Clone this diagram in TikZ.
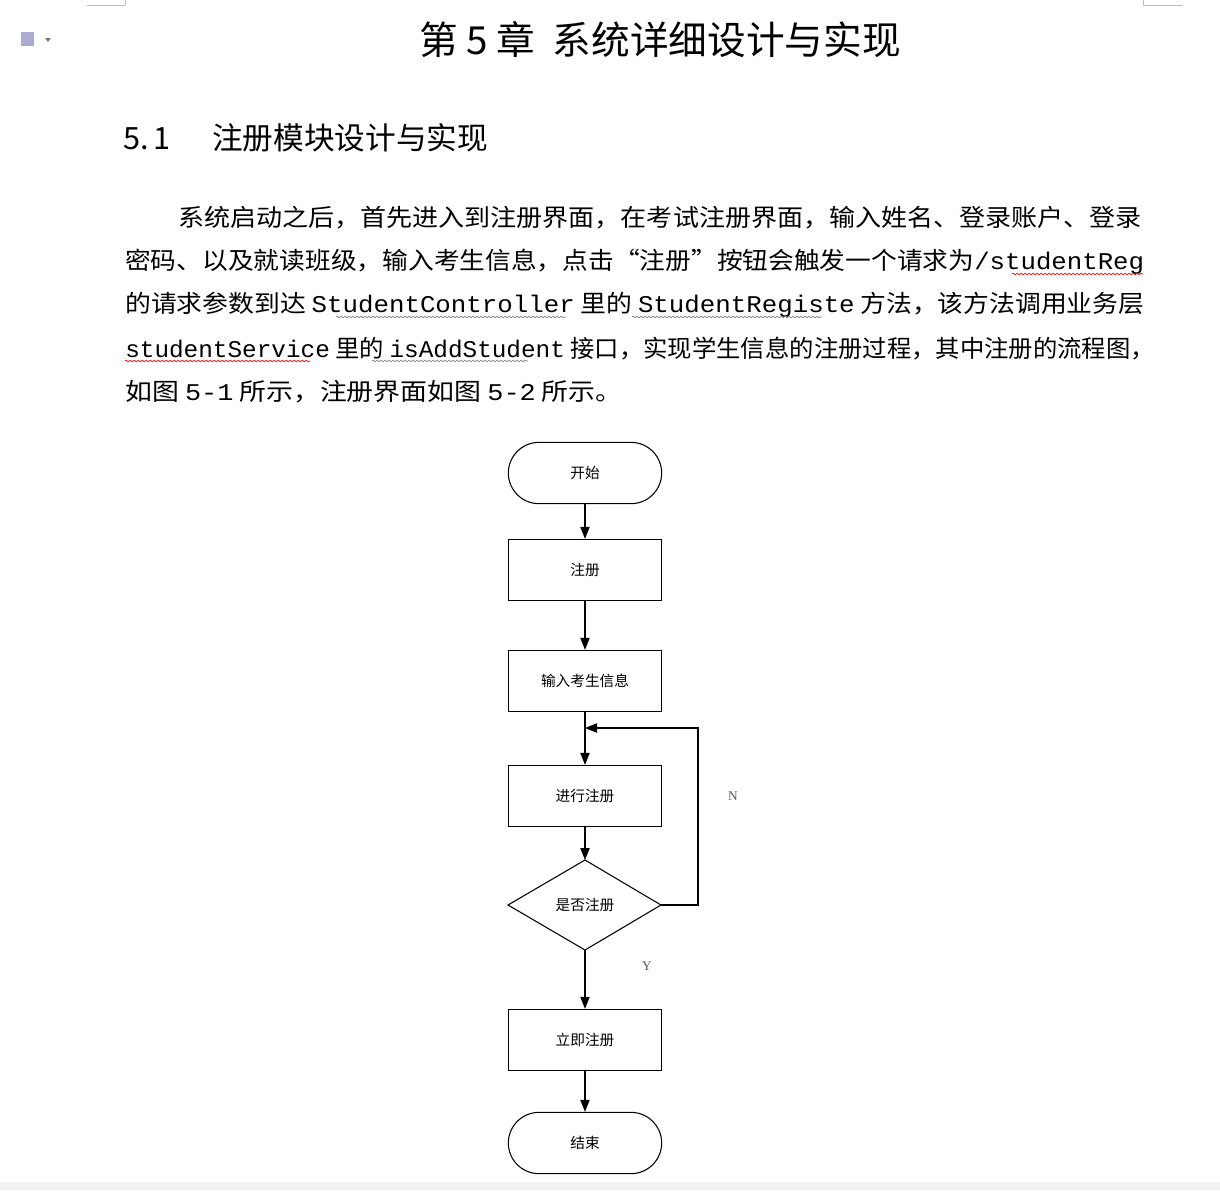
\documentclass[tikz,border=0pt]{standalone}
\usepackage{fontspec}
\setmainfont{Liberation Serif}
\newfontfamily\cjk{Noto Sans CJK SC}
\newfontfamily\mono{Liberation Mono}
\usetikzlibrary{arrows.meta,decorations.pathmorphing}
\begin{document}
\begin{tikzpicture}[x=0.75pt,y=-0.75pt,
  box/.style={draw,thick,minimum width=115pt,minimum height=46pt,font=\cjk\fontsize{11}{12}\selectfont},
  term/.style={box,rounded corners=23pt},
  arr/.style={thick,-{Triangle[length=9pt,width=7pt]}},
  para/.style={anchor=west,inner sep=0,font=\cjk\fontsize{18}{20}\selectfont},
  wavy/.style={decorate,decoration={snake,amplitude=0.6pt,segment length=3pt},line width=0.5pt}]
\useasboundingbox (0,0) rectangle (1220,1190);
\fill[white] (0,0) rectangle (1220,1190);
\draw[gray!50] (87,5) -- (125,5) (125,0) -- (125,5);
\draw[gray!50] (1143,5) -- (1183,5) (1143,0) -- (1143,5);
\fill[gray!10] (0,1182) rectangle (1220,1190);
\fill[blue!30!gray!50] (21,32) rectangle (34,46);
\fill[gray] (45,38) -- (51,38) -- (48,42) -- cycle;
\node[font=\cjk\fontsize{29}{32}\selectfont] (title) at (660,40) {第 5 章\ \ 系统详细设计与实现};
\node[anchor=west,inner sep=0,font=\cjk\fontsize{23}{26}\selectfont] (h) at (123,138) {5.\,1\ \ \ \ \ \ 注册模块设计与实现};
\node[para] (l1) at (178,218) {\scalebox{1.085}[1]{系统启动之后，首先进入到注册界面，在考试注册界面，输入姓名、登录账户、登录}};
\node[para] (l2) at (125,262) {\scalebox{1.072}[1]{密码、以及就读班级，输入考生信息，点击“注册”按钮会触发一个请求为{\mono /studentReg}}};
\node[para] (l3) at (125,305) {\scalebox{1.075}[1]{的请求参数到达 {\mono StudentController} 里的 {\mono StudentRegiste} 方法，该方法调用业务层}};
\node[para] (l4) at (125,349) {\scalebox{1.015}[1]{{\mono studentService} 里的 {\mono isAddStudent} 接口，实现学生信息的注册过程，其中注册的流程图，}};
\node[para] (l5) at (125,392) {\scalebox{1.12}[1]{如图 {\mono 5-1} 所示，注册界面如图 {\mono 5-2} 所示。}};
\draw[wavy,red] (1012,274) -- (1143,274);
\draw[wavy,red] (125,361) -- (310,361);
\draw[wavy,gray] (336,317) -- (566,317);
\draw[wavy,gray] (632,317) -- (822,317);
\draw[wavy,gray] (372,361) -- (528,361);

\node[term] (s) at (585,473) {开始};
\node[box] (a) at (585,570) {注册};
\node[box] (b) at (585,681) {输入考生信息};
\node[box] (c) at (585,796) {进行注册};
\node[box] (f) at (585,1040) {立即注册};
\node[term] (e) at (585,1143) {结束};
\path (585,860) coordinate (dt) (661,905) coordinate (dr) (585,950) coordinate (db) (508,905) coordinate (dl);
\draw[thick,fill=white] (dt) -- (dr) -- (db) -- (dl) -- cycle;
\node[font=\cjk\fontsize{11}{12}\selectfont] (dtext) at (585,905) {是否注册};
\coordinate (m) at (585,728);
\draw[arr] (s) -- (a);
\draw[arr] (a) -- (b);
\draw[arr] (b) -- (c);
\draw[arr] (c) -- (dt);
\draw[arr] (db) -- (f);
\draw[arr] (f) -- (e);
\draw[arr] (dr) -- (698,905) -- (698,728) -- (m);
\node[font=\fontsize{10}{12}\selectfont,text=gray!70!black] (N) at (733,796) {N};
\node[font=\fontsize{10}{12}\selectfont,text=gray!70!black] (Y) at (647,966) {Y};
\end{tikzpicture}
\end{document}
